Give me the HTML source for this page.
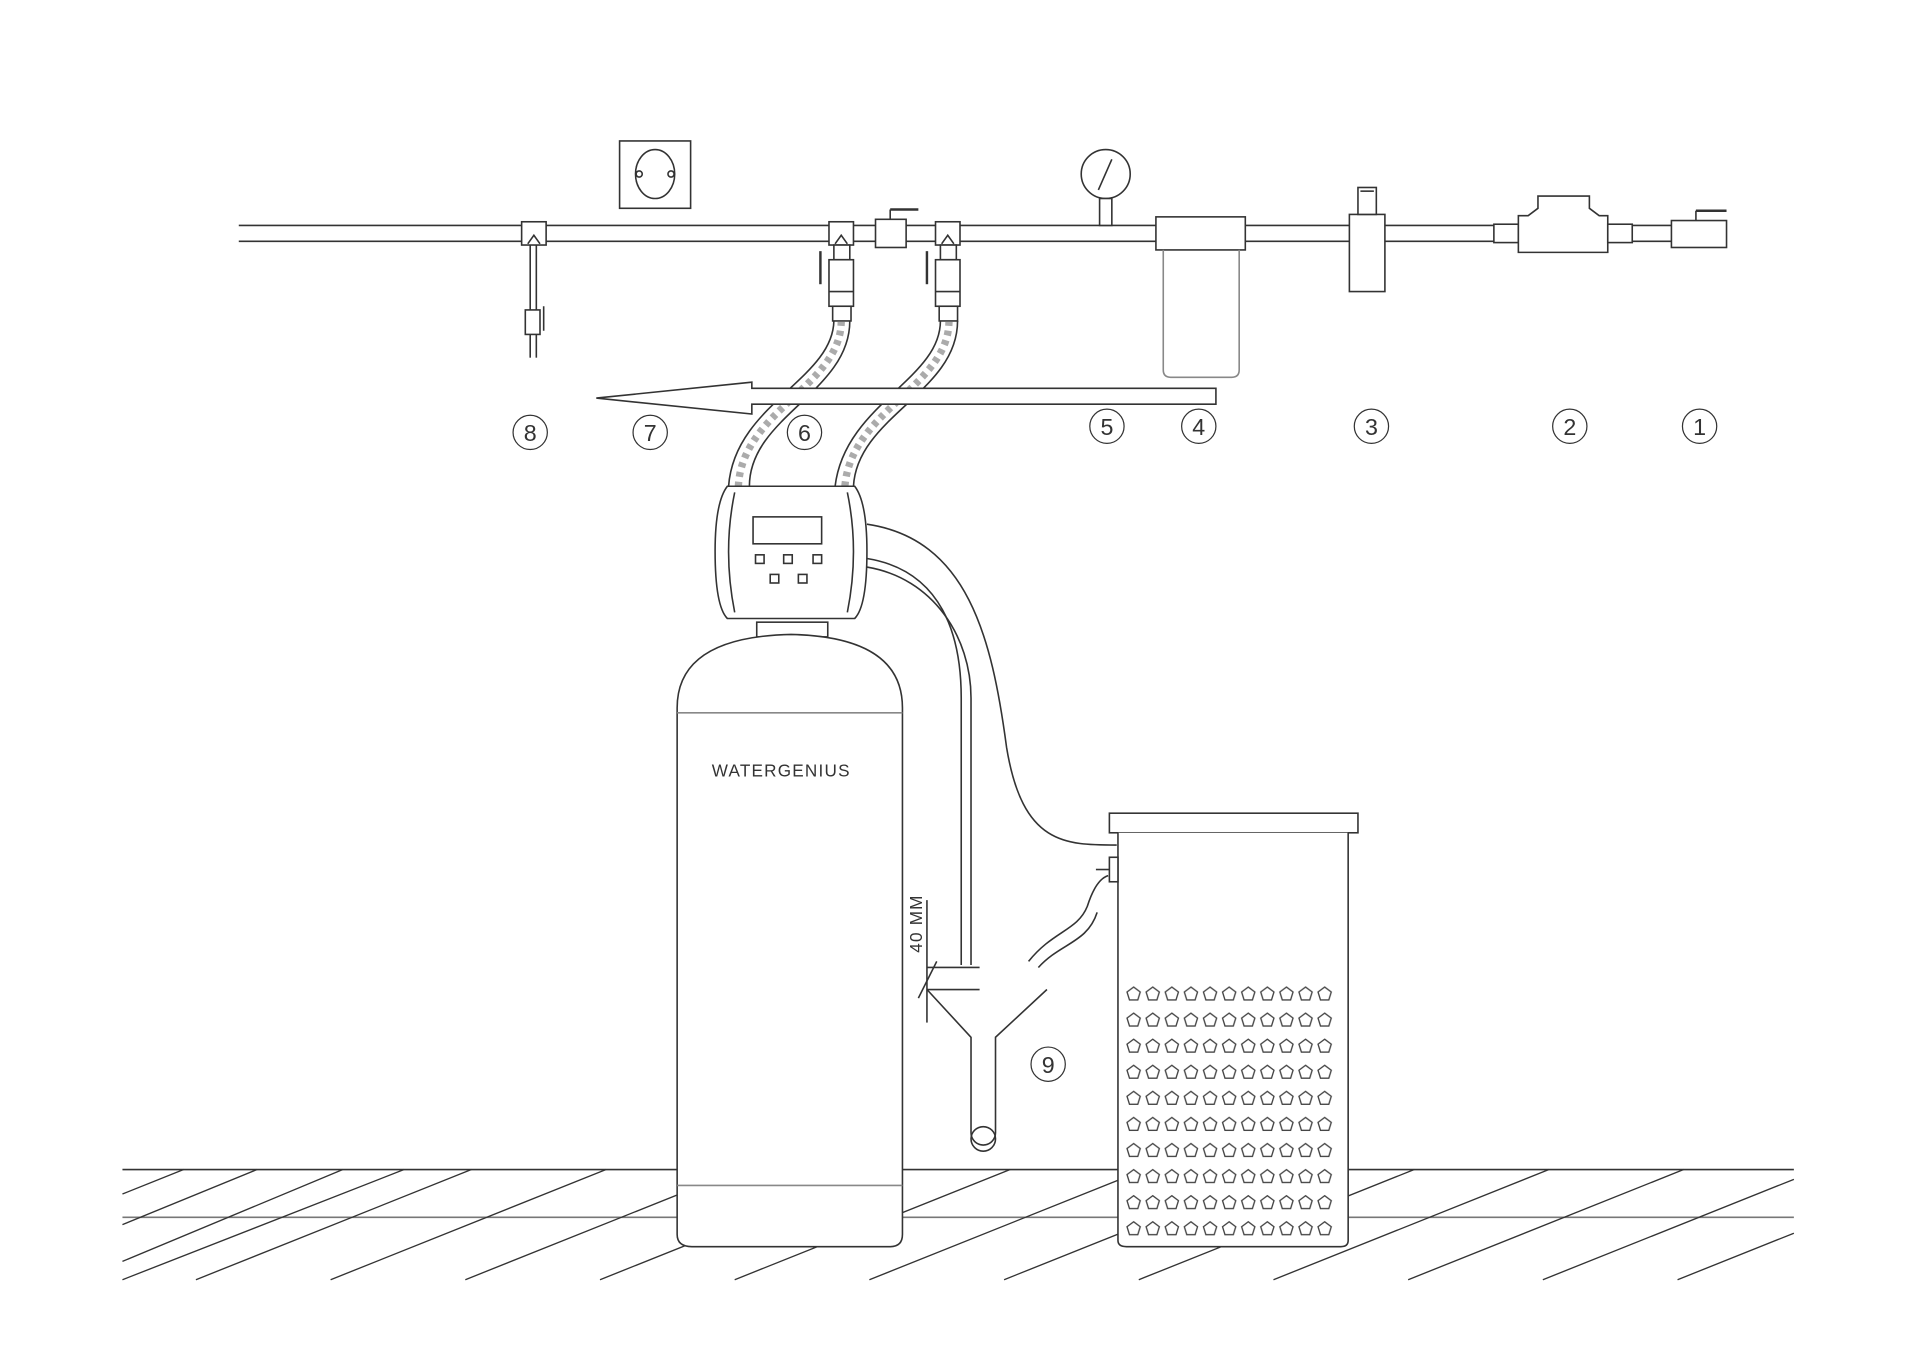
<!DOCTYPE html>
<html><head><meta charset="utf-8"><style>
html,body{margin:0;padding:0;background:#fff;}
svg{display:block;}
text{font-family:"Liberation Sans",sans-serif;fill:#333;}
</style></head><body>
<svg width="1920" height="1357" viewBox="0 0 1568 1108" xmlns="http://www.w3.org/2000/svg">
<defs>
<pattern id="pent" x="918" y="803" width="15.6" height="21.3" patternUnits="userSpaceOnUse">
<polygon points="7.8,3 13.2,7 11.2,13.5 4.4,13.5 2.4,7" fill="none" stroke="#444" stroke-width="1.1"/>
</pattern>
</defs>
<g stroke="#333" stroke-width="1.3" fill="none">
<!-- floor -->
<line x1="100" y1="955" x2="1465" y2="955"/>
<line x1="100" y1="994" x2="1465" y2="994" stroke="#777"/>
<g stroke-width="1.1">
<line x1="100" y1="975" x2="150" y2="955"/>
<line x1="100" y1="1000" x2="210" y2="955"/>
<line x1="100" y1="1030" x2="280" y2="955"/>
<line x1="100" y1="1045" x2="330" y2="955"/>
<line x1="160" y1="1045" x2="385" y2="955"/>
<line x1="270" y1="1045" x2="495" y2="955"/>
<line x1="380" y1="1045" x2="605" y2="955"/>
<line x1="490" y1="1045" x2="715" y2="955"/>
<line x1="600" y1="1045" x2="825" y2="955"/>
<line x1="710" y1="1045" x2="935" y2="955"/>
<line x1="820" y1="1045" x2="1045" y2="955"/>
<line x1="930" y1="1045" x2="1155" y2="955"/>
<line x1="1040" y1="1045" x2="1265" y2="955"/>
<line x1="1150" y1="1045" x2="1375" y2="955"/>
<line x1="1260" y1="1045" x2="1465" y2="963"/>
<line x1="1370" y1="1045" x2="1465" y2="1007"/>
</g>
<!-- pipe -->
<line x1="195" y1="184" x2="1230" y2="184"/>
<line x1="195" y1="197" x2="1230" y2="197"/>
<line x1="1330" y1="184" x2="1365" y2="184"/>
<line x1="1330" y1="197" x2="1365" y2="197"/>
<!-- socket -->
<rect x="506" y="115" width="58" height="55" fill="#fff"/>
<ellipse cx="535" cy="142" rx="16" ry="20"/>
<circle cx="522" cy="142" r="2.5"/><circle cx="548" cy="142" r="2.5"/>
<!-- tee 8 -->
<rect x="426" y="181" width="20" height="19" fill="#fff"/>
<path d="M431 199 L436 192 L441 199"/>
<line x1="433" y1="200" x2="433" y2="255"/><line x1="438" y1="200" x2="438" y2="255"/>
<rect x="429" y="253" width="12" height="20" fill="#fff"/>
<line x1="444" y1="250" x2="444" y2="270"/>
<line x1="433" y1="273" x2="433" y2="292"/><line x1="438" y1="273" x2="438" y2="292"/>
<!-- tees 6 -->
<rect x="677" y="181" width="20" height="19" fill="#fff"/>
<path d="M682 199 L687 192 L692 199"/>
<rect x="764" y="181" width="20" height="19" fill="#fff"/>
<path d="M769 199 L774 192 L779 199"/>
<rect x="715" y="179" width="25" height="23" fill="#fff"/>
<line x1="727" y1="179" x2="727" y2="171"/><line x1="727" y1="171" x2="750" y2="171" stroke-width="2"/>
<rect x="681" y="200" width="13" height="12" fill="#fff"/>
<rect x="677" y="212" width="20" height="38" fill="#fff"/>
<line x1="677" y1="238" x2="697" y2="238"/>
<rect x="680" y="250" width="15" height="12" fill="#fff"/>
<line x1="670" y1="205" x2="670" y2="232" stroke-width="2"/>
<rect x="768" y="200" width="13" height="12" fill="#fff"/>
<rect x="764" y="212" width="20" height="38" fill="#fff"/>
<line x1="764" y1="238" x2="784" y2="238"/>
<rect x="767" y="250" width="15" height="12" fill="#fff"/>
<line x1="757" y1="205" x2="757" y2="232" stroke-width="2"/>
<!-- hoses -->
<path d="M681 262 C680 310 600 330 595 397" stroke-width="1.3"/>
<path d="M694 262 C694 320 612 340 612 397"/>
<path d="M768 262 C768 310 690 330 682 397"/>
<path d="M782 262 C782 320 700 340 697 397"/>
<path d="M687 262 C687 315 606 335 603 397" stroke-dasharray="4 4" stroke-width="6" stroke="#666" opacity="0.55"/>
<path d="M775 262 C775 315 695 335 690 397" stroke-dasharray="4 4" stroke-width="6" stroke="#666" opacity="0.55"/>
<!-- gauge -->
<circle cx="903" cy="142" r="20"/>
<line x1="897" y1="155" x2="908" y2="130"/>
<rect x="898" y="162" width="10" height="22" fill="#fff"/>
<!-- filter 4 -->
<rect x="944" y="177" width="73" height="27" fill="#fff"/>
<path d="M950 204 V302 Q950 308 956 308 H1006 Q1012 308 1012 302 V204" stroke="#888"/>
<!-- reducer 3 -->
<rect x="1102" y="175" width="29" height="63" fill="#fff"/>
<rect x="1109" y="153" width="15" height="22" fill="#fff"/>
<line x1="1111" y1="156" x2="1122" y2="156"/>
<!-- meter 2 -->
<rect x="1220" y="183" width="20" height="15" fill="#fff"/>
<path d="M1240 176 L1248 176 L1256 170 V160 H1298 V170 L1306 176 L1313 176 V206 H1240 Z" fill="#fff"/>
<rect x="1313" y="183" width="20" height="15" fill="#fff"/>
<!-- valve 1 -->
<rect x="1365" y="180" width="45" height="22" fill="#fff"/>
<line x1="1385" y1="180" x2="1385" y2="172"/><line x1="1385" y1="172" x2="1410" y2="172" stroke-width="2"/>
<!-- arrow -->
<path d="M993 317 V330 H614 V338 L487 325 L614 312 V317 Z" fill="#fff"/>
<!-- control head -->
<path d="M594 397 H698 Q708 410 708 450 Q708 495 698 505 H594 Q584 495 584 450 Q584 410 594 397 Z" fill="#fff"/>
<path d="M600 402 Q590 450 600 500"/><path d="M692 402 Q702 450 692 500"/>
<rect x="615" y="422" width="56" height="22"/>
<rect x="617" y="453" width="7" height="7"/><rect x="640" y="453" width="7" height="7"/><rect x="664" y="453" width="7" height="7"/>
<rect x="629" y="469" width="7" height="7"/><rect x="652" y="469" width="7" height="7"/>
<rect x="618" y="508" width="58" height="12"/>
<!-- tubes -->
<path d="M708 428 C790 440 810 520 822 610 C835 690 870 690 912 690"/>
<path d="M708 456 C770 466 785 520 785 570 V788"/>
<path d="M708 463 C762 472 793 520 793 570 V788"/>
<!-- tank -->
<path d="M553 578 Q553 520 646 518 Q737 520 737 578 V1008 Q737 1018 727 1018 H565 Q553 1018 553 1008 Z" fill="#fff"/>
<line x1="553" y1="582" x2="737" y2="582" stroke="#888"/>
<line x1="553" y1="968" x2="737" y2="968" stroke="#888"/>
<!-- funnel -->
<path d="M757 808 L793 847 V925 A10 10 0 0 0 813 925 V847 L855 808"/>
<ellipse cx="803" cy="930" rx="10" ry="10"/>
<line x1="757" y1="790" x2="800" y2="790"/>
<line x1="757" y1="808" x2="800" y2="808"/>
<line x1="757" y1="735" x2="757" y2="835"/>
<line x1="750" y1="815" x2="765" y2="785"/>
<path d="M840 785 C860 760 880 760 888 740 Q895 718 905 715"/>
<path d="M848 790 C866 770 888 770 896 745"/>
<!-- brine tank -->
<rect x="906" y="664" width="203" height="16" fill="#fff"/>
<path d="M913 680 V1013 Q913 1018 920 1018 H1095 Q1101 1018 1101 1013 V680" fill="#fff"/>
<rect x="906" y="700" width="7" height="20" fill="#fff"/>
<line x1="895" y1="710" x2="906" y2="710"/>
<!-- circled numbers -->
<g stroke-width="1">
<circle cx="433" cy="353" r="14"/><circle cx="531" cy="353" r="14"/><circle cx="657" cy="353" r="14"/>
<circle cx="904" cy="348" r="14"/><circle cx="979" cy="348" r="14"/><circle cx="1120" cy="348" r="14"/>
<circle cx="1282" cy="348" r="14"/><circle cx="1388" cy="348" r="14"/><circle cx="856" cy="869" r="14"/>
</g>
</g>
<rect x="918" y="803" width="172" height="213" fill="url(#pent)"/>
<g font-size="19" text-anchor="middle">
<text x="433" y="360">8</text><text x="531" y="360">7</text><text x="657" y="360">6</text>
<text x="904" y="355">5</text><text x="979" y="355">4</text><text x="1120" y="355">3</text>
<text x="1282" y="355">2</text><text x="1388" y="355">1</text><text x="856" y="876">9</text>
</g>
<text x="638" y="634" font-size="14" text-anchor="middle" letter-spacing="1">WATERGENIUS</text>
<text x="0" y="0" font-size="14" transform="translate(753,778) rotate(-90)" letter-spacing="1">40 MM</text>
</svg>
</body></html>
